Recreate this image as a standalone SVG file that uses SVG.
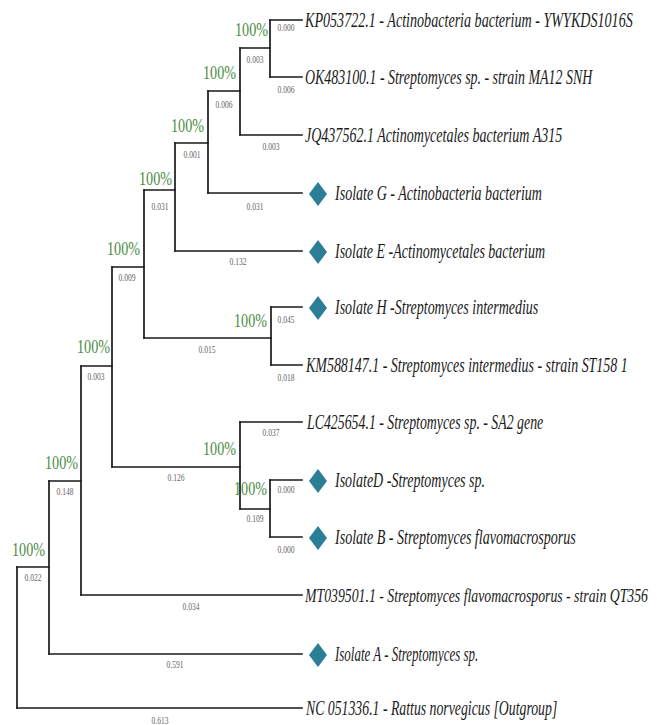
<svg xmlns="http://www.w3.org/2000/svg" width="657" height="725" viewBox="0 0 657 725">
<style>
.e{stroke:#1a1a1a;stroke-width:1.7;fill:none;stroke-linecap:square}
.lf{font-family:"Liberation Serif","Times New Roman",serif;font-style:italic;font-size:20px;fill:#1a1a1a}
.bs{font-family:"Liberation Serif","Times New Roman",serif;font-size:19px;fill:#4a8c3f;text-anchor:end}
.bl{font-family:"Liberation Serif","Times New Roman",serif;font-size:10px;fill:#666;text-anchor:middle}
.dm{fill:#2a7f96}
</style>
<defs>
<path id="dia" d="M0,-12 L9,0 L0,12 L-9,0 Z"/>
</defs>
<rect width="657" height="725" fill="#ffffff"/>
<g id="connectors">
<path class="e" d="M17,567 V708 M49,481 V654 M81,366 V595 M112,267 V467 M144,190 V338 M175,143 V251 M208,91 V193 M240,48 V135 M270,20 V77 M271,307 V365 M240,422 V509 M270,480 V537"/>
<path class="e" d="M17,567 H49 M17,708 H302 M49,481 H81 M49,654 H302 M81,366 H112 M81,595 H302 M112,267 H144 M112,467 H240 M144,190 H175 M144,338 H271 M175,143 H208 M175,251 H302 M208,91 H240 M208,193 H302 M240,48 H270 M240,135 H302 M270,20 H302 M270,77 H302 M271,307 H302 M271,365 H302 M240,422 H302 M240,509 H270 M270,480 H302 M270,537 H302"/>
<g id="branch-lengths">
<text class="bl" x="286" y="31" textLength="17" lengthAdjust="spacingAndGlyphs">0.000</text>
<text class="bl" x="286" y="93" textLength="17" lengthAdjust="spacingAndGlyphs">0.006</text>
<text class="bl" x="255" y="63" textLength="17" lengthAdjust="spacingAndGlyphs">0.003</text>
<text class="bl" x="271" y="150" textLength="17" lengthAdjust="spacingAndGlyphs">0.003</text>
<text class="bl" x="224" y="108" textLength="17" lengthAdjust="spacingAndGlyphs">0.006</text>
<text class="bl" x="255" y="210" textLength="17" lengthAdjust="spacingAndGlyphs">0.031</text>
<text class="bl" x="192" y="158" textLength="17" lengthAdjust="spacingAndGlyphs">0.001</text>
<text class="bl" x="238" y="265" textLength="17" lengthAdjust="spacingAndGlyphs">0.132</text>
<text class="bl" x="160" y="210" textLength="17" lengthAdjust="spacingAndGlyphs">0.031</text>
<text class="bl" x="207" y="353" textLength="17" lengthAdjust="spacingAndGlyphs">0.015</text>
<text class="bl" x="286" y="323" textLength="17" lengthAdjust="spacingAndGlyphs">0.045</text>
<text class="bl" x="286" y="381" textLength="17" lengthAdjust="spacingAndGlyphs">0.018</text>
<text class="bl" x="127" y="281" textLength="17" lengthAdjust="spacingAndGlyphs">0.009</text>
<text class="bl" x="176" y="481" textLength="17" lengthAdjust="spacingAndGlyphs">0.126</text>
<text class="bl" x="271" y="436" textLength="17" lengthAdjust="spacingAndGlyphs">0.037</text>
<text class="bl" x="255" y="522" textLength="17" lengthAdjust="spacingAndGlyphs">0.109</text>
<text class="bl" x="286" y="493" textLength="17" lengthAdjust="spacingAndGlyphs">0.000</text>
<text class="bl" x="286" y="553" textLength="17" lengthAdjust="spacingAndGlyphs">0.000</text>
<text class="bl" x="96" y="380" textLength="17" lengthAdjust="spacingAndGlyphs">0.003</text>
<text class="bl" x="191" y="610" textLength="17" lengthAdjust="spacingAndGlyphs">0.034</text>
<text class="bl" x="65" y="495" textLength="17" lengthAdjust="spacingAndGlyphs">0.148</text>
<text class="bl" x="175" y="668" textLength="17" lengthAdjust="spacingAndGlyphs">0.591</text>
<text class="bl" x="33" y="581" textLength="17" lengthAdjust="spacingAndGlyphs">0.022</text>
<text class="bl" x="160" y="724" textLength="17" lengthAdjust="spacingAndGlyphs">0.613</text>
</g>
</g>
<g id="node-kp-ok"><text class="bs" x="268" y="36" textLength="33" lengthAdjust="spacingAndGlyphs">100%</text></g>
<g id="node-jq"><text class="bs" x="236" y="79" textLength="33" lengthAdjust="spacingAndGlyphs">100%</text></g>
<g id="node-g"><text class="bs" x="204" y="132" textLength="33" lengthAdjust="spacingAndGlyphs">100%</text></g>
<g id="node-e"><text class="bs" x="172" y="185" textLength="33" lengthAdjust="spacingAndGlyphs">100%</text></g>
<g id="node-upper"><text class="bs" x="140" y="255" textLength="33" lengthAdjust="spacingAndGlyphs">100%</text></g>
<g id="node-h-km"><text class="bs" x="267" y="327" textLength="33" lengthAdjust="spacingAndGlyphs">100%</text></g>
<g id="node-streptomyces"><text class="bs" x="110" y="353" textLength="33" lengthAdjust="spacingAndGlyphs">100%</text></g>
<g id="node-lc-d-b"><text class="bs" x="236" y="455" textLength="33" lengthAdjust="spacingAndGlyphs">100%</text></g>
<g id="node-d-b"><text class="bs" x="267" y="495" textLength="33" lengthAdjust="spacingAndGlyphs">100%</text></g>
<g id="node-mt"><text class="bs" x="78" y="469" textLength="33" lengthAdjust="spacingAndGlyphs">100%</text></g>
<g id="node-a"><text class="bs" x="45" y="556" textLength="33" lengthAdjust="spacingAndGlyphs">100%</text></g>
<g id="leaf-kp"><text class="lf" transform="translate(305,27) scale(0.75,1)" textLength="437" lengthAdjust="spacingAndGlyphs">KP053722.1 - Actinobacteria bacterium - YWYKDS1016S</text></g>
<g id="leaf-ok"><text class="lf" transform="translate(305,84) scale(0.75,1)" textLength="383" lengthAdjust="spacingAndGlyphs">OK483100.1 - Streptomyces sp. - strain MA12 SNH</text></g>
<g id="leaf-jq"><text class="lf" transform="translate(305,142) scale(0.75,1)" textLength="343" lengthAdjust="spacingAndGlyphs">JQ437562.1 Actinomycetales bacterium A315</text></g>
<g id="leaf-g"><use href="#dia" class="dm" x="318" y="194"/><text class="lf" transform="translate(335,200) scale(0.75,1)" textLength="276" lengthAdjust="spacingAndGlyphs">Isolate G - Actinobacteria bacterium</text></g>
<g id="leaf-e"><use href="#dia" class="dm" x="318" y="252"/><text class="lf" transform="translate(335,258) scale(0.75,1)" textLength="280" lengthAdjust="spacingAndGlyphs">Isolate E -Actinomycetales bacterium</text></g>
<g id="leaf-h"><use href="#dia" class="dm" x="318" y="308"/><text class="lf" transform="translate(335,314) scale(0.75,1)" textLength="271" lengthAdjust="spacingAndGlyphs">Isolate H -Streptomyces intermedius</text></g>
<g id="leaf-km"><text class="lf" transform="translate(306,372) scale(0.75,1)" textLength="429" lengthAdjust="spacingAndGlyphs">KM588147.1 - Streptomyces intermedius - strain ST158 1</text></g>
<g id="leaf-lc"><text class="lf" transform="translate(307,429) scale(0.75,1)" textLength="315" lengthAdjust="spacingAndGlyphs">LC425654.1 - Streptomyces sp. - SA2 gene</text></g>
<g id="leaf-d"><use href="#dia" class="dm" x="318" y="481"/><text class="lf" transform="translate(335,487) scale(0.75,1)" textLength="200" lengthAdjust="spacingAndGlyphs">IsolateD -Streptomyces sp.</text></g>
<g id="leaf-b"><use href="#dia" class="dm" x="318" y="538"/><text class="lf" transform="translate(335,544) scale(0.75,1)" textLength="321" lengthAdjust="spacingAndGlyphs">Isolate B - Streptomyces flavomacrosporus</text></g>
<g id="leaf-mt"><text class="lf" style="font-size:19px" transform="translate(305,602) scale(0.7,1)" textLength="490" lengthAdjust="spacingAndGlyphs">MT039501.1 - Streptomyces flavomacrosporus - strain QT356</text></g>
<g id="leaf-a"><use href="#dia" class="dm" x="318" y="655"/><text class="lf" transform="translate(335,661) scale(0.75,1)" textLength="191" lengthAdjust="spacingAndGlyphs">Isolate A - Streptomyces sp.</text></g>
<g id="leaf-nc"><text class="lf" transform="translate(306,715) scale(0.75,1)" textLength="335" lengthAdjust="spacingAndGlyphs">NC 051336.1 - Rattus norvegicus [Outgroup]</text></g>
</svg>
